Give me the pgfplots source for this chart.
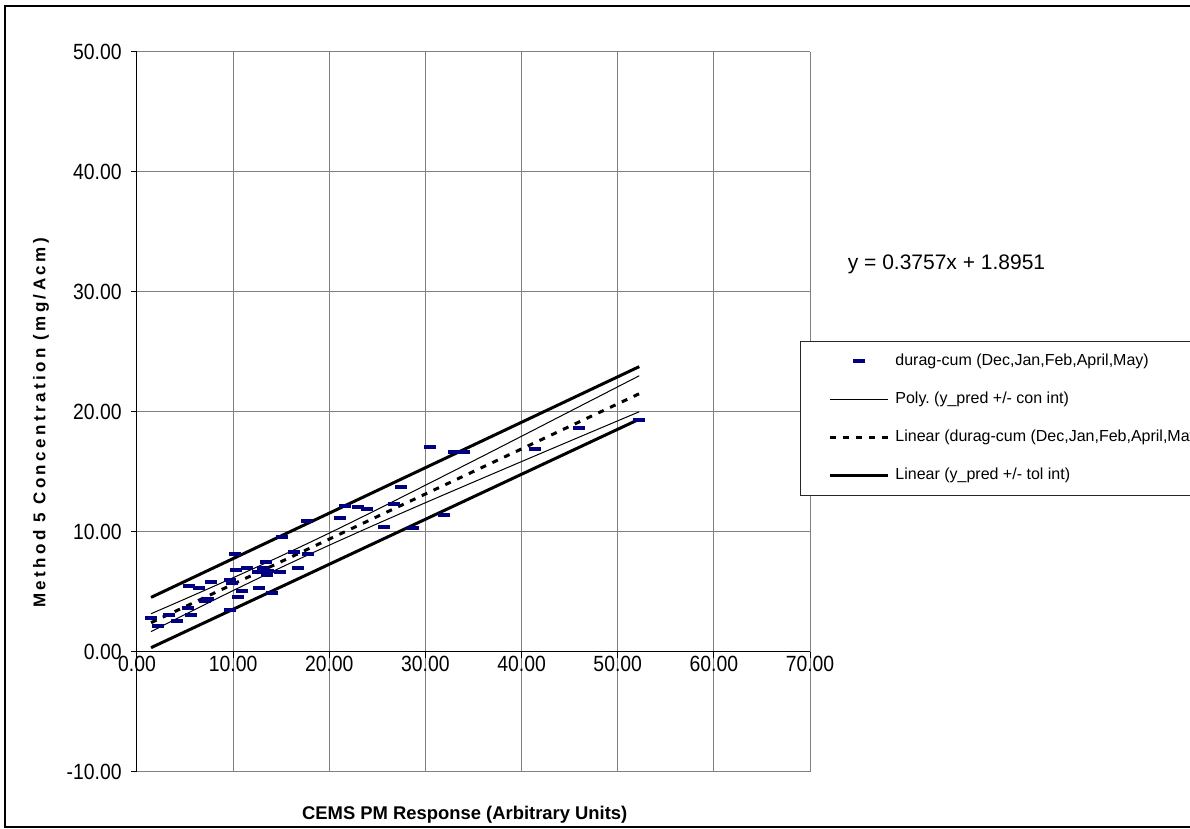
\documentclass[border=0pt]{standalone}
\usepackage{fontspec}
\setmainfont{Liberation Sans}
\newfontfamily\tickfont[FakeStretch=0.88]{Liberation Sans}
\newfontfamily\ylabfont[LetterSpace=20]{Liberation Sans}
\usepackage{pgfplots}
\usepackage{pgfplotstable}
\pgfplotsset{compat=1.18}
\definecolor{navy}{RGB}{0,0,128}
\definecolor{gridgray}{RGB}{128,128,128}

\pgfplotsset{
  markleg/.style={legend image code/.code={\draw[mark repeat=2, mark phase=2, ##1]
    plot coordinates {(0pt,0pt) (14.5pt,0pt) (29pt,0pt)};}},
}

% measured data: CEMS PM response vs Method 5 concentration
\pgfplotstableread{
x y
1.46 2.86
2.15 2.17
3.38 3.08
4.20 2.60
5.34 3.65
5.59 3.08
5.41 5.50
6.45 5.36
7.66 5.81
7.07 4.22
7.42 4.42
9.68 3.47
10.20 8.19
10.27 6.83
9.68 6.00
9.85 5.75
10.54 4.58
10.96 5.08
11.45 6.97
12.62 6.69
12.66 5.36
13.14 6.97
13.42 7.53
13.67 6.78
13.50 6.44
14.00 4.89
14.88 6.64
15.12 9.61
16.37 8.30
16.72 6.97
17.83 8.19
17.69 10.92
21.12 11.17
21.64 12.17
23.00 12.08
23.97 11.92
25.70 10.44
26.70 12.30
27.45 13.75
28.75 10.36
30.49 17.06
31.95 11.42
33.00 16.67
34.00 16.67
41.40 16.94
45.96 18.67
52.24 19.36
}\duragdata

% confidence band (upper / lower)
\pgfplotstableread{
x up lo
1.46 3.19 1.70
5 4.42 3.13
10 6.19 5.12
15 8.01 7.05
20 9.91 8.90
25 11.88 10.69
30 13.90 12.44
35 15.93 14.16
40 17.98 15.87
45 20.04 17.57
52.24 23.02 20.02
}\confband

\begin{document}
\begin{tikzpicture}
\useasboundingbox (0,0) rectangle (595pt,-414.5pt);
\begin{scope}
\clip (0,0) rectangle (595pt,-414.5pt);
\fill[white] (0,0) rectangle (595pt,-414.5pt);
\draw[line width=0.8pt] (2.5pt,-3pt) rectangle (620pt,-413.5pt);

\begin{axis}[
  at={(68.5pt,-26pt)}, anchor=north west,
  scale only axis, width=336.5pt, height=360pt,
  xmin=0, xmax=70, ymin=-10, ymax=50,
  axis x line=middle, axis y line=left,
  axis line style={-, black, line width=0.5pt},
  hide obscured x ticks=false, hide obscured y ticks=false,
  xtick={0,10,...,70},
  xticklabels={0.00,10.00,20.00,30.00,40.00,50.00,60.00,70.00},
  ytick={-10,0,...,50},
  yticklabels={-10.00,0.00,10.00,20.00,30.00,40.00,50.00},
  tick align=outside, major tick length=3pt,
  tick style={black, line width=0.5pt},
  grid=major, major grid style={gridgray, line width=0.5pt},
  ticklabel style={font=\tickfont\fontsize{11}{12}\selectfont},
  yticklabel style={inner sep=0pt, xshift=-4.5pt},
  xticklabel style={inner sep=0pt, anchor=north, yshift=1pt},
  xlabel={CEMS PM Response (Arbitrary Units)},
  xlabel style={at={(axis description cs:0.487,-0.0597)}, anchor=center,
    font=\bfseries\fontsize{9.2}{11}\selectfont},
  ylabel={Method 5 Concentration (mg/Acm)},
  ylabel style={at={(axis description cs:-0.1426,0.4847)}, anchor=center,
    font=\ylabfont\bfseries\fontsize{8.5}{10}\selectfont},
  legend style={at={(0.985,0.5986)}, anchor=north west,
    font=\fontsize{8}{9.6}\selectfont, draw=black!85, line width=0.5pt,
    fill=white, inner xsep=14pt, inner ysep=6.1pt, row sep=11.3pt,
    nodes={inner sep=0pt, text height=6pt, text depth=1.7pt}},
  legend cell align=left,
  legend image code/.code={\draw[#1] (0pt,0pt) -- (29pt,0pt);},
  clip=false,
]
% legend entries
\addlegendimage{only marks, mark=-, navy, mark size=3pt,
  mark options={line width=2pt}, markleg}
\addlegendentry{\hspace{3pt}durag-cum (Dec,Jan,Feb,April,May)}
\addlegendimage{black, line width=0.5pt}
\addlegendentry{\hspace{3pt}Poly.\ (y\_pred +/- con int)}
\addlegendimage{black, line width=1.5pt, dash pattern=on 3pt off 3.5pt}
\addlegendentry{\hspace{3pt}Linear (durag-cum (Dec,Jan,Feb,April,May))}
\addlegendimage{black, line width=1.5pt}
\addlegendentry{\hspace{3pt}Linear (y\_pred +/- tol int)}

% tolerance interval lines
\addplot[forget plot, black, line width=1.5pt] coordinates {(1.46,4.55) (52.24,23.78)};
\addplot[forget plot, black, line width=1.5pt] coordinates {(1.46,0.36) (52.24,19.40)};
% confidence band
\addplot[forget plot, black, line width=0.5pt, smooth] table[x=x, y=up] {\confband};
\addplot[forget plot, black, line width=0.5pt, smooth] table[x=x, y=lo] {\confband};
% linear fit y = 0.3757x + 1.8951
\addplot[forget plot, black, line width=1.5pt, dash pattern=on 3pt off 3.5pt]
  coordinates {(1.46,2.444) (52.24,21.522)};
% measurements
\addplot[forget plot, only marks, mark=-, navy, mark size=3pt,
  mark options={line width=2pt}] table[x=x, y=y] {\duragdata};
\end{axis}

\node[font=\fontsize{10.5}{12}\selectfont] at (473.25pt,-132pt) {y = 0.3757x + 1.8951};
\end{scope}
\end{tikzpicture}
\end{document}
